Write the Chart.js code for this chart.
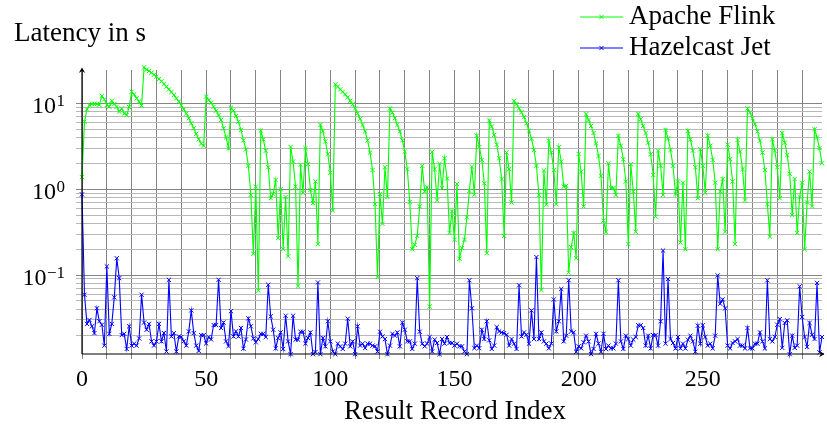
<!DOCTYPE html>
<html>
<head>
<meta charset="utf-8">
<script src="https://cdn.jsdelivr.net/npm/chart.js@4/dist/chart.umd.min.js"></script>
<style>
  html, body { margin: 0; padding: 0; background: #fff; }
  #wrap { width: 827px; height: 426px; position: relative; }
</style>
</head>
<body>
<div id="wrap"><canvas id="chart"></canvas></div>
<script>
// Latency per result record (seconds)
const flinkLatency = [
  1.38, 6.1, 8.5, 9.5, 9.8, 9.8, 9.8, 9.55, 12.2, 11.1,
  9.55, 9.1, 10.7, 9.8, 9.1, 8.0, 8.7, 7.6, 7.3, 9.0,
  13.6, 12.7, 11.4, 10.5, 9.4, 26.2, 24.6, 23.8, 22.7, 21.5,
  20.4, 19.2, 18.0, 16.8, 15.6, 14.5, 13.5, 12.5, 11.4, 10.5,
  9.5, 8.5, 7.6, 6.7, 5.85, 5.1, 4.4, 3.8, 3.4, 3.2,
  12.0, 10.9, 10.2, 9.1, 8.2, 7.3, 6.4, 5.1, 4.0, 3.0,
  8.9, 8.2, 7.1, 6.1, 4.9, 3.7, 2.9, 1.87, 0.86, 0.177,
  1.07, 0.066, 4.8, 3.8, 2.8, 1.80, 0.785, 0.88, 1.28, 0.27,
  1.0, 0.20, 0.81, 0.165, 3.1, 2.1, 1.07, 0.074, 1.92, 0.91,
  3.0, 1.97, 0.98, 0.69, 1.23, 0.229, 5.6, 4.7, 3.6, 2.55,
  1.56, 0.565, 16.6, 15.6, 14.5, 13.6, 12.7, 11.7, 10.7, 9.7,
  8.7, 7.6, 6.6, 5.6, 4.7, 3.7, 2.67, 1.67, 0.67, 0.095,
  0.88, 0.395, 1.80, 0.81, 8.7, 7.8, 6.7, 5.6, 4.7, 3.7,
  2.74, 1.71, 0.71, 0.20, 0.225, 0.286, 0.63, 1.87, 0.94, 1.05,
  0.043, 2.72, 1.71, 0.74, 1.97, 1.03, 2.29, 1.33, 0.31, 0.55,
  0.257, 1.15, 0.155, 0.206, 0.257, 0.47, 0.955, 1.83, 0.86, 4.2,
  3.1, 2.19, 1.17, 0.18, 6.3, 5.35, 4.3, 3.3, 2.29, 1.31,
  0.286, 2.67, 1.71, 0.70, 10.7, 9.8, 8.7, 7.85, 6.9, 5.85,
  4.8, 3.85, 2.86, 1.87, 0.86, 0.067, 1.65, 0.66, 3.68, 2.67,
  1.67, 0.67, 3.08, 2.1, 1.07, 1.09, 0.107, 0.211, 0.308, 0.157,
  2.57, 1.6, 0.63, 7.45, 6.4, 5.45, 4.5, 3.4, 2.44, 1.43,
  0.43, 0.32, 2.0, 1.03, 1.03, 0.86, 4.17, 3.2, 2.23, 1.23,
  0.23, 1.95, 0.94, 0.32, 7.5, 6.5, 5.45, 4.5, 3.48, 2.55,
  1.47, 0.48, 2.81, 1.87, 0.86, 4.9, 3.9, 2.86, 1.87, 0.88,
  1.23, 0.24, 1.19, 0.20, 4.77, 3.8, 2.81, 1.80, 0.785, 2.92,
  1.87, 0.91, 4.2, 3.2, 2.19, 1.19, 0.20, 0.94, 1.31, 0.32,
  3.3, 2.23, 1.23, 0.23, 3.74, 2.74, 1.71, 0.74, 8.7, 7.8,
  6.7, 5.7, 4.7, 3.68, 2.67, 1.67, 0.67, 0.28, 3.8, 2.81,
  1.80, 0.785, 4.5, 3.48, 2.5, 1.51, 0.50, 1.31, 0.31, 0.81,
  1.19, 0.20, 0.70, 1.6, 0.63, 4.98, 4.0, 3.0, 2.0
]

const jetLatency = [
  0.87, 0.059, 0.027, 0.030, 0.0253, 0.0211, 0.041, 0.029, 0.0264, 0.0151,
  0.126, 0.0207, 0.027, 0.055, 0.157, 0.092, 0.020, 0.0207, 0.0138, 0.0253,
  0.0151, 0.0159, 0.0151, 0.0183, 0.059, 0.028, 0.0231, 0.027, 0.0169, 0.0151,
  0.0169, 0.027, 0.0169, 0.0211, 0.0129, 0.088, 0.0193, 0.0211, 0.0129, 0.0193,
  0.019, 0.0169, 0.0151, 0.0221, 0.0388, 0.0211, 0.0151, 0.0131, 0.020, 0.020,
  0.016, 0.019, 0.0178, 0.0262, 0.0262, 0.088, 0.0242, 0.028, 0.0169, 0.0149,
  0.038, 0.0193, 0.0221, 0.0193, 0.0242, 0.0139, 0.0178, 0.0313, 0.0253, 0.0183,
  0.0165, 0.018, 0.0207, 0.0207, 0.019, 0.077, 0.033, 0.0231, 0.014, 0.0185,
  0.0215, 0.0138, 0.0336, 0.0169, 0.012, 0.0336, 0.0177, 0.0177, 0.0219, 0.0219,
  0.0159, 0.0185, 0.0215, 0.012, 0.0127, 0.082, 0.012, 0.0185, 0.0148, 0.029,
  0.0169, 0.0129, 0.012, 0.0159, 0.0148, 0.0138, 0.0159, 0.031, 0.0148, 0.0169,
  0.012, 0.0253, 0.0151, 0.0159, 0.0141, 0.0159, 0.0159, 0.0151, 0.0148, 0.0129,
  0.0219, 0.0193, 0.018, 0.012, 0.0151, 0.0207, 0.0197, 0.0215, 0.0148, 0.028,
  0.0231, 0.0169, 0.0169, 0.0138, 0.0159, 0.092, 0.0219, 0.0159, 0.0148, 0.0159,
  0.019, 0.0129, 0.0177, 0.0162, 0.012, 0.018, 0.0159, 0.019, 0.0162, 0.0162,
  0.0151, 0.0159, 0.0148, 0.0148, 0.0129, 0.012, 0.087, 0.041, 0.0141, 0.0151,
  0.0141, 0.0231, 0.018, 0.029, 0.0174, 0.0138, 0.0151, 0.0248, 0.0221, 0.0215,
  0.0211, 0.0202, 0.0151, 0.018, 0.0159, 0.0138, 0.076, 0.0193, 0.0215, 0.0202,
  0.0159, 0.0388, 0.018, 0.162, 0.018, 0.0215, 0.0169, 0.0159, 0.014, 0.0159,
  0.052, 0.0221, 0.029, 0.069, 0.0169, 0.0197, 0.087, 0.0221, 0.0215, 0.0128,
  0.0148, 0.014, 0.0165, 0.0197, 0.0169, 0.012, 0.0138, 0.0207, 0.0159, 0.0128,
  0.0207, 0.0138, 0.0151, 0.014, 0.014, 0.0159, 0.087, 0.0169, 0.0138, 0.0197,
  0.018, 0.0151, 0.0177, 0.019, 0.026, 0.026, 0.0242, 0.0151, 0.0197, 0.014,
  0.020, 0.020, 0.0151, 0.029, 0.193, 0.0159, 0.090, 0.018, 0.0162, 0.014,
  0.019, 0.014, 0.0159, 0.014, 0.0177, 0.0197, 0.0169, 0.0128, 0.0257, 0.0159,
  0.026, 0.019, 0.0151, 0.0159, 0.014, 0.0197, 0.099, 0.0464, 0.052, 0.041,
  0.0151, 0.014, 0.0162, 0.0169, 0.018, 0.0151, 0.0151, 0.014, 0.0242, 0.014,
  0.014, 0.0159, 0.0159, 0.0215, 0.0169, 0.014, 0.087, 0.018, 0.0169, 0.019,
  0.0264, 0.0307, 0.0142, 0.0277, 0.0297, 0.012, 0.0197, 0.0142, 0.0151, 0.074,
  0.0325, 0.019, 0.0146, 0.0277, 0.0202, 0.018, 0.081, 0.0126, 0.019
]

const recordIndex = flinkLatency.map((_, i) => i)

// Axis ticks / grid
const xGridValues = [0, 10, 20, 30, 40, 50, 60, 70, 80, 90, 100, 110, 120, 130, 140,
  150, 160, 170, 180, 190, 200, 210, 220, 230, 240, 250, 260, 270, 280, 290]
const xLabelValues = [0, 50, 100, 150, 200, 250]
const yGridValues = [0.02, 0.03, 0.04, 0.05, 0.06, 0.07, 0.08, 0.09,
  0.1, 0.2, 0.3, 0.4, 0.5, 0.6, 0.7, 0.8, 0.9,
  1, 2, 3, 4, 5, 6, 7, 8, 9, 10]
const yMajorValues = [0.1, 1, 10]
const yMajorExponents = ['\u22121', '0', '1']

const FONT = "'Liberation Serif', 'Times New Roman', serif"
Chart.defaults.font.family = FONT
Chart.defaults.color = '#000'

const GREEN = '#00ff00'
const BLUE = '#0000ff'

// Axis lines with arrows, 10^n tick labels, axis titles and the legend (pgfplots look)
const decorations = {
  id: 'decorations',
  afterDatasetsDraw(chart) {
    const { ctx, chartArea } = chart
    const { left, right, top, bottom } = chartArea
    ctx.save()
    ctx.strokeStyle = '#000'
    ctx.fillStyle = '#000'
    ctx.lineWidth = 1.2

    // y axis with arrow
    ctx.beginPath()
    ctx.moveTo(left, bottom)
    ctx.lineTo(left, top - 1)
    ctx.stroke()
    ctx.beginPath()
    ctx.moveTo(left, top - 2.5)
    ctx.lineTo(left - 3.2, top + 3)
    ctx.lineTo(left, top + 1)
    ctx.lineTo(left + 3.2, top + 3)
    ctx.closePath()
    ctx.fill()

    // x axis with arrow (tip runs off the canvas edge)
    ctx.beginPath()
    ctx.moveTo(left, bottom)
    ctx.lineTo(right + 2, bottom)
    ctx.stroke()
    ctx.beginPath()
    ctx.moveTo(right + 2.5, bottom)
    ctx.lineTo(right - 3, bottom - 3.2)
    ctx.lineTo(right - 1, bottom)
    ctx.lineTo(right - 3, bottom + 3.2)
    ctx.closePath()
    ctx.fill()

    // y tick labels as 10 with a raised exponent
    const yScale = chart.scales.y
    ctx.textBaseline = 'alphabetic'
    ctx.textAlign = 'right'
    yMajorValues.forEach((v, k) => {
      const py = yScale.getPixelForValue(v)
      ctx.font = '17px ' + FONT
      const exp = yMajorExponents[k]
      const ew = ctx.measureText(exp).width
      ctx.fillText(exp, 65, py + 2.5)
      ctx.font = '24px ' + FONT
      ctx.fillText('10', 65 - ew - 0.5, py + 10)
    })

    // titles
    ctx.font = '27px ' + FONT
    ctx.textAlign = 'left'
    ctx.fillText('Latency in s', 14, 41)
    ctx.textAlign = 'center'
    ctx.fillText('Result Record Index', 455, 419)

    // legend
    const rows = [{ y: 17, base: 24 }, { y: 48, base: 55 }]
    chart.data.datasets.forEach((ds, i) => {
      const r = rows[i]
      ctx.strokeStyle = ds.borderColor
      ctx.lineWidth = 1
      ctx.beginPath()
      ctx.moveTo(580, r.y)
      ctx.lineTo(623, r.y)
      ctx.stroke()
      Chart.helpers.drawPoint(ctx, {
        pointStyle: ds.pointStyle, radius: ds.pointRadius, borderWidth: 1
      }, 601.5, r.y)
      ctx.fillStyle = '#000'
      ctx.textAlign = 'left'
      ctx.font = '27px ' + FONT
      ctx.fillText(ds.label, 629, r.base)
    })
    ctx.restore()
  }
}

const ctx = document.getElementById('chart').getContext('2d')
new Chart(ctx, {
  type: 'line',
  data: {
    labels: recordIndex,
    datasets: [
      {
        label: 'Apache Flink',
        data: flinkLatency,
        borderColor: GREEN,
        backgroundColor: GREEN,
        borderWidth: 1.1,
        pointStyle: 'crossRot',
        pointRadius: 3,
        pointBorderWidth: 1,
        pointBorderColor: GREEN,
        tension: 0,
        clip: false
      },
      {
        label: 'Hazelcast Jet',
        data: jetLatency,
        borderColor: BLUE,
        backgroundColor: BLUE,
        borderWidth: 1.1,
        pointStyle: 'crossRot',
        pointRadius: 3,
        pointBorderWidth: 1,
        pointBorderColor: BLUE,
        tension: 0,
        clip: false
      }
    ]
  },
  options: {
    responsive: true,
    maintainAspectRatio: false,
    animation: false,
    layout: { padding: { top: 70, right: 0, left: 0, bottom: 0 } },
    plugins: {
      legend: { display: false },
      tooltip: { enabled: false }
    },
    scales: {
      x: {
        type: 'linear',
        min: 0,
        max: 298,
        afterBuildTicks: (scale) => {
          scale.ticks = xGridValues.map(v => ({ value: v }))
        },
        afterFit: (scale) => { scale.height = 72 },
        border: { display: false },
        grid: { color: '#858585', lineWidth: 1, tickLength: 5 },
        ticks: {
          autoSkip: false,
          maxRotation: 0,
          padding: 6,
          font: { size: 24 },
          callback: (v) => xLabelValues.includes(v) ? String(v) : ''
        }
      },
      y: {
        type: 'logarithmic',
        min: 0.01205,
        max: 24.4,
        afterBuildTicks: (scale) => {
          scale.ticks = yGridValues.map(v => ({ value: v, major: yMajorValues.includes(v) }))
        },
        afterFit: (scale) => { scale.width = 82 },
        border: { display: false },
        grid: {
          color: (c) => yMajorValues.includes(c.tick && c.tick.value) ? '#858585' : '#b8b8b8',
          lineWidth: 1,
          tickLength: 6
        },
        ticks: {
          autoSkip: false,
          padding: 10,
          font: { size: 24 },
          // labels for the decades are drawn by the decorations plugin
          callback: () => ''
        }
      }
    }
  },
  plugins: [decorations]
})
</script>
</body>
</html>
